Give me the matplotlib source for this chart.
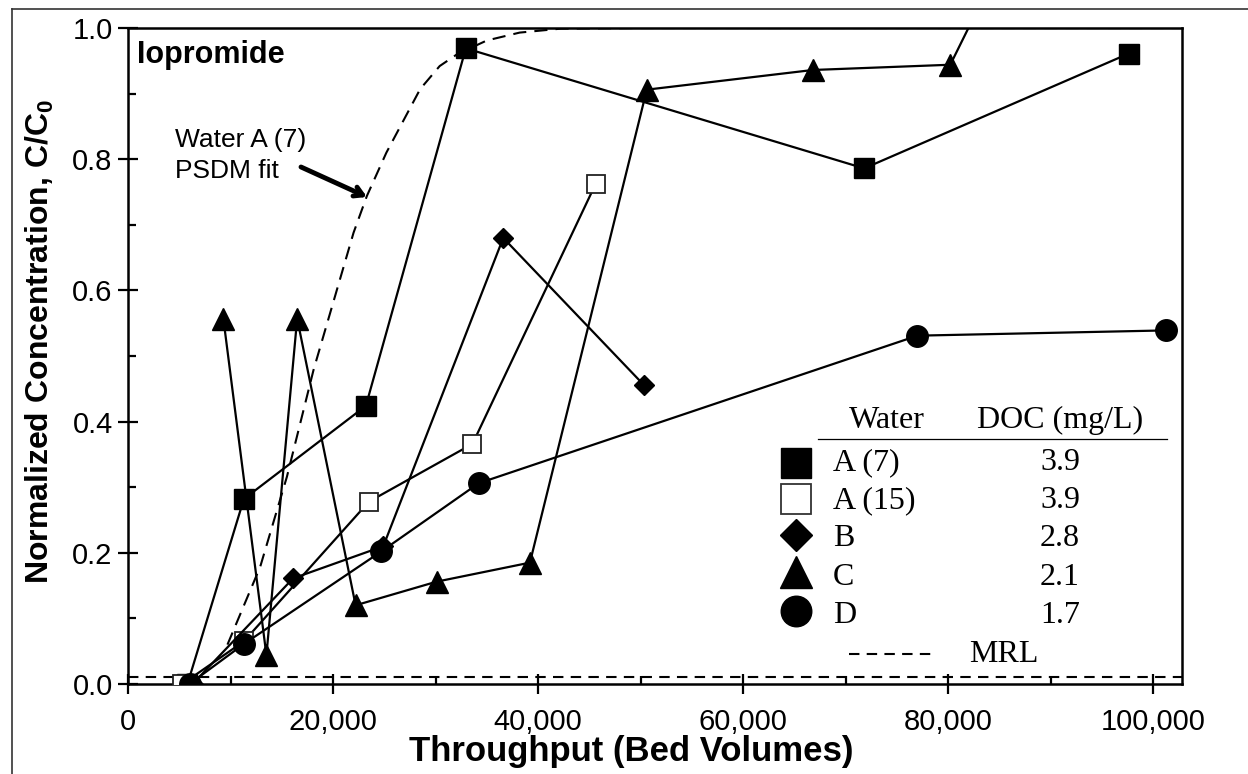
import matplotlib
matplotlib.use('Agg')
import matplotlib.pyplot as plt
from matplotlib.lines import Line2D
from matplotlib.ticker import MultipleLocator, FuncFormatter

plt.rcParams['font.family'] = ['Liberation Sans', 'DejaVu Sans']
plt.rcParams['mathtext.fontset'] = 'custom'
plt.rcParams['mathtext.rm'] = 'Liberation Sans'
plt.rcParams['mathtext.bf'] = 'Liberation Sans:bold'

# ---------------- data ----------------
a7_x = [5800, 11300, 23200, 32950, 71800, 97600]
a7_y = [0.0, 0.282, 0.424, 0.969, 0.786, 0.961]

a15_x = [5300, 11300, 23500, 33600, 45600]
a15_y = [0.0, 0.065, 0.278, 0.366, 0.762]

b_x = [6300, 16100, 24900, 36600, 50300]
b_y = [0.0, 0.161, 0.210, 0.680, 0.456]

c_x = [9300, 13500, 16500, 22200, 30100, 39200, 50600, 66800, 80200, 84500]
c_y = [0.557, 0.044, 0.557, 0.120, 0.156, 0.185, 0.906, 0.936, 0.944, 1.08]

d_x = [6000, 11300, 24700, 34200, 77000, 101200]
d_y = [0.0, 0.061, 0.202, 0.306, 0.531, 0.539]

psdm_x = [9700, 12900, 15500, 18100, 22000, 23300, 25200, 28500, 30400,
          32100, 35000, 38200, 42200, 50000, 103000]
psdm_y = [0.06, 0.179, 0.316, 0.479, 0.688, 0.744, 0.810, 0.907, 0.942,
          0.960, 0.981, 0.993, 0.999, 1.0, 1.0]

mrl = 0.01

water_labels = ['A (7)', 'A (15)', 'B', 'C', 'D']
doc_values = ['3.9', '3.9', '2.8', '2.1', '1.7']

x_ticks = [0, 20000, 40000, 60000, 80000, 100000]
y_ticks = [0.0, 0.2, 0.4, 0.6, 0.8, 1.0]

# ---------------- figure ----------------
W, H = 1248, 774
fig = plt.figure(figsize=(W / 100, H / 100), dpi=100)


def fp(px, py):
    return (px / W, 1 - py / H)


ax = fig.add_axes([128 / W, 1 - 684 / H, (1182 - 128) / W, (684 - 28) / H])

lw = 1.6
styles = [
    (a7_x, a7_y, dict(marker='s', ms=14.5, mfc='black', mec='black')),
    (a15_x, a15_y, dict(marker='s', ms=13.5, mfc='white', mec='#222222', mew=1.3)),
    (b_x, b_y, dict(marker='D', ms=10.5, mfc='black', mec='black')),
    (c_x, c_y, dict(marker='^', ms=15.5, mfc='black', mec='black')),
    (d_x, d_y, dict(marker='o', ms=15.5, mfc='black', mec='black')),
]
for xs, ys, st in styles:
    ax.plot(xs, ys, color='black', lw=lw, zorder=3, **st)

ax.plot(psdm_x, psdm_y, color='black', lw=1.5, ls=(0, (6.3, 3.9)), zorder=2)
ax.axhline(mrl, color='black', lw=1.5, ls=(0, (5, 3.5)), zorder=2)

ax.set_xlim(0, 102800)
ax.set_ylim(0, 1.0)
ax.set_xticks(x_ticks)
ax.set_yticks(y_ticks)
ax.xaxis.set_minor_locator(MultipleLocator(10000))
ax.yaxis.set_minor_locator(MultipleLocator(0.1))
ax.xaxis.set_major_formatter(FuncFormatter(lambda v, p: f"{int(round(v)):,}"))
ax.yaxis.set_major_formatter(FuncFormatter(lambda v, p: f"{v:.1f}"))
ax.tick_params(which='major', direction='inout', length=14, width=1.6,
               labelsize=21, colors='black')
ax.tick_params(axis='x', which='major', pad=10)
ax.tick_params(axis='y', which='major', pad=4)
ax.tick_params(which='minor', direction='in', length=6, width=1.6)
for s in ax.spines.values():
    s.set_linewidth(1.8)

# axis labels
fig.text(*fp(631, 752), 'Throughput (Bed Volumes)', ha='center', va='center',
         fontsize=25, fontweight='bold')
fig.text(*fp(40, 342), r'Normalized Concentration, C/C$_\mathbf{0}$', ha='center',
         va='center', rotation=90, fontsize=23, fontweight='bold')

# annotations
fig.text(*fp(137, 62.7), 'Iopromide', ha='left', va='baseline', fontsize=22,
         fontweight='bold')
fig.text(*fp(175, 146.7), 'Water A (7)', ha='left', va='baseline', fontsize=19)
fig.text(*fp(175, 178), 'PSDM fit', ha='left', va='baseline', fontsize=19)
ax.annotate('', xy=fp(367, 197), xycoords='figure fraction',
            xytext=fp(301, 167), textcoords='figure fraction',
            arrowprops=dict(arrowstyle='->,head_length=0.6,head_width=0.35',
                            lw=3.5, color='black', shrinkA=0, shrinkB=0))

# table-like legend
serif = 'Liberation Serif'
fig.text(*fp(887, 428), 'Water', ha='center', va='baseline', fontsize=23, family=serif)
fig.text(*fp(1060, 428), 'DOC (mg/L)', ha='center', va='baseline', fontsize=23, family=serif)
fig.add_artist(Line2D([818 / W, 1167 / W], [1 - 439 / H, 1 - 439 / H], color='black',
                      lw=0.9, transform=fig.transFigure))
row_marker_y = [463, 499, 535, 572, 611]
row_base_y = [470, 508, 546, 585, 623]
leg_styles = [
    dict(marker='s', ms=22, mfc='black', mec='black'),
    dict(marker='s', ms=21, mfc='white', mec='#333333', mew=1.3),
    dict(marker='D', ms=16, mfc='black', mec='black'),
    dict(marker='^', ms=23, mfc='black', mec='black'),
    dict(marker='o', ms=22, mfc='black', mec='black'),
]
for lab, val, my, by, st in zip(water_labels, doc_values, row_marker_y, row_base_y, leg_styles):
    fx, fy = fp(796, my)
    fig.add_artist(Line2D([fx], [fy], ls='none', transform=fig.transFigure, **st))
    fig.text(*fp(833, by), lab, ha='left', va='baseline', fontsize=23, family=serif)
    fig.text(*fp(1060, by), val, ha='center', va='baseline', fontsize=23, family=serif)
fig.add_artist(Line2D([849 / W, 937 / W], [1 - 654 / H, 1 - 654 / H], color='black',
                      lw=1.5, ls=(0, (5, 3.5)), transform=fig.transFigure))
fig.text(*fp(969, 662), 'MRL', ha='left', va='baseline', fontsize=23, family=serif)

# figure frame (top and left)
fig.add_artist(Line2D([12 / W, 1], [1 - 9 / H, 1 - 9 / H], color='#333333', lw=1.2,
                      transform=fig.transFigure))
fig.add_artist(Line2D([12 / W, 12 / W], [0, 1 - 9 / H], color='#333333', lw=1.2,
                      transform=fig.transFigure))

fig.savefig('out.png', dpi=100)
